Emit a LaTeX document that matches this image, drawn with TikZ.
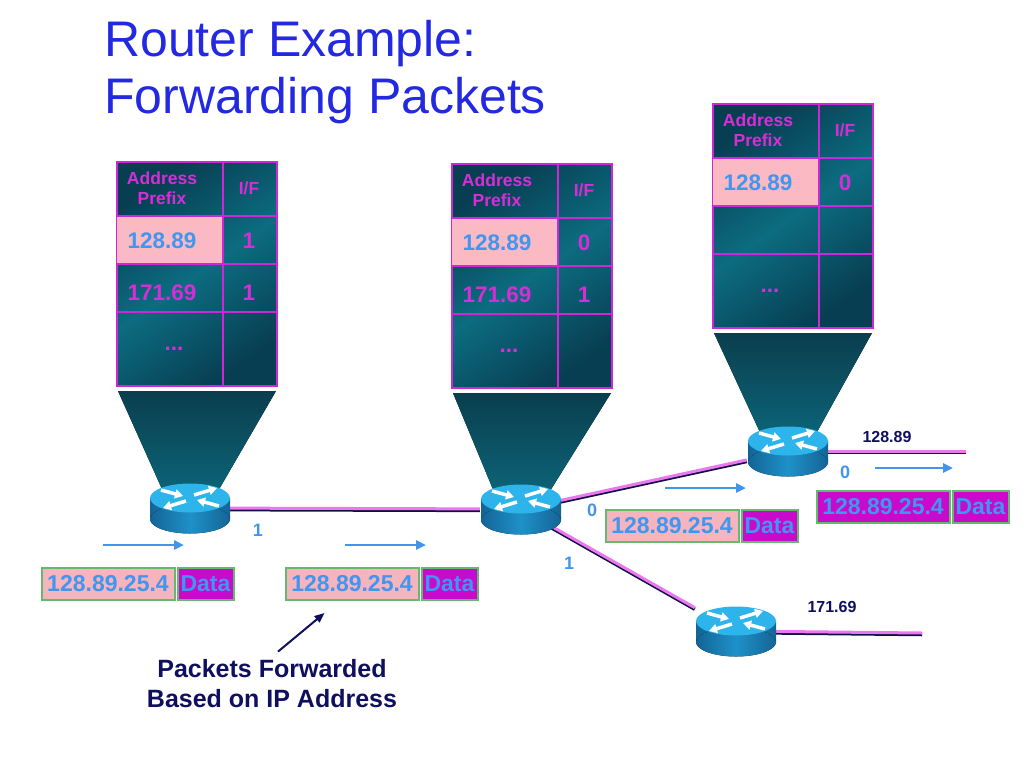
\documentclass[tikz,border=0pt]{standalone}
\usepackage{fontspec}
\setmainfont{Liberation Sans}
\usepackage{tikz}
\usetikzlibrary{arrows.meta}
\usetikzlibrary{positioning}
\usetikzlibrary{backgrounds}

\definecolor{titleblue}{RGB}{35,40,225}
\definecolor{tabdark}{RGB}{8,62,82}
\definecolor{tabmid}{RGB}{12,108,128}
\definecolor{tabline}{RGB}{205,40,215}
\definecolor{cellpink}{RGB}{250,185,195}
\definecolor{tabblue}{RGB}{65,150,240}
\definecolor{tabmag}{RGB}{215,45,215}
\definecolor{fundark}{RGB}{10,62,78}
\definecolor{funmid}{RGB}{12,102,122}
\definecolor{rttop}{RGB}{45,180,235}
\definecolor{rtside}{RGB}{30,145,200}
\definecolor{rtdark}{RGB}{20,100,150}
\definecolor{lkpink}{RGB}{235,120,240}
\definecolor{lkdark}{RGB}{15,15,70}
\definecolor{pktgreen}{RGB}{100,185,110}
\definecolor{pktpink}{RGB}{245,180,190}
\definecolor{pktmag}{RGB}{200,10,205}
\definecolor{navy}{RGB}{15,15,95}
\definecolor{movblue}{RGB}{65,150,235}

\tikzset{
    titletext/.style={text=titleblue, align=left, inner sep=0pt, font=\fontsize{50}{57}\selectfont},
    tablebox/.style={draw=tabline, line width=2pt, minimum width=160pt, minimum height=224pt, inner sep=0pt,
        shading=axis, top color=tabdark, bottom color=tabdark, middle color=tabmid, shading angle=35},
    tabrule/.style={draw=tabline, line width=2pt},
    headtext/.style={text=tabmag, align=center, inner sep=0pt, font=\bfseries\fontsize{17.5}{20}\selectfont},
    celltext/.style={text=tabmag, inner sep=0pt, font=\bfseries\fontsize{22.5}{25}\selectfont},
    funnel/.style={top color=fundark, bottom color=funmid},
    router/.style={inner sep=0pt, minimum width=82pt, minimum height=52pt, path picture={
        \begin{scope}[shift={(path picture bounding box.center)}]
            \fill[left color=rtdark, right color=rtdark, middle color=rtside] (-40,-10) rectangle (40,11);
            \fill[left color=rtdark, right color=rtdark, middle color=rtside] (0,11) ellipse [x radius=40pt, y radius=14.5pt];
            \fill[rttop] (0,-10) ellipse [x radius=40pt, y radius=14.5pt];
            \foreach \a/\b in {{4,-13}/{27,-20}, {-4,-7}/{-27,0}, {-29,-18}/{-7,-12}, {29,-2}/{7,-8}}
                \draw[white, line width=3.5pt, -{Triangle[length=8pt,width=9pt]}] (\a) -- (\b);
        \end{scope}}},
    linkdark/.style={draw=lkdark, line width=3.5pt, transform canvas={yshift=-1.5pt}},
    linkpink/.style={draw=lkpink, line width=3pt},
    addr/.style={draw=pktgreen, line width=2pt, fill=pktpink, text=tabblue, minimum width=133pt, minimum height=32pt,
        inner sep=0pt, font=\bfseries\fontsize{23}{25}\selectfont},
    addrfwd/.style={addr, fill=pktmag},
    datab/.style={addr, fill=pktmag, minimum width=56pt},
    iflabel/.style={text=movblue, inner sep=0pt, font=\bfseries\fontsize{18}{20}\selectfont},
    netlabel/.style={text=navy, inner sep=0pt, font=\bfseries\fontsize{16}{18}\selectfont},
    movearrow/.style={draw=movblue, line width=2.5pt, -{Triangle[length=10pt,width=9pt]}},
    notetext/.style={text=navy, align=center, inner sep=2pt, font=\bfseries\fontsize{25}{30}\selectfont},
    notearrow/.style={draw=navy, line width=2pt, -{Triangle[length=10pt,width=8pt]}}
}

\begin{document}
\begin{tikzpicture}[x=1pt, y=-1pt]
    \useasboundingbox (0,0) rectangle (1024,768);

    % title
    \node[titletext, anchor=north west] (title) at (104,20) {Router Example:\\Forwarding Packets};

    % routers
    \node[router] (r1) at (190,508) {};
    \node[router] (r2) at (521,509) {};
    \node[router] (r3) at (788,451) {};
    \node[router] (r4) at (736,631) {};
    \coordinate (e3) at (966,451);
    \coordinate (e4) at (922,633);

    % routing tables
    \foreach \t/\x/\y/\ia/\pb/\ib in {t1/116/161/1/171.69/1, t2/451/163/0/171.69/1, t3/712/103/0//} {
        \node[tablebox, anchor=north west] (\t) at (\x,\y) {};
        \fill[cellpink] ([shift={(1,55)}]\t.north west) rectangle ([shift={(107,103)}]\t.north west);
        \draw[tabrule] ([shift={(107,0)}]\t.north west) -- ([shift={(107,0)}]\t.south west);
        \foreach \h in {55,103,151}
            \draw[tabrule] ([shift={(0,\h)}]\t.north west) -- ([shift={(0,\h)}]\t.north east);
        \node[headtext] (\t-ap) at ([shift={(46,27)}]\t.north west) {Address\\Prefix};
        \node[headtext] (\t-if) at ([shift={(133,27)}]\t.north west) {I/F};
        \node[celltext, text=tabblue] (\t-p1) at ([shift={(46,80)}]\t.north west) {128.89};
        \node[celltext] (\t-i1) at ([shift={(133,80)}]\t.north west) {\ia};
        \node[celltext] (\t-p2) at ([shift={(46,132)}]\t.north west) {\pb};
        \node[celltext] (\t-i2) at ([shift={(133,132)}]\t.north west) {\ib};
        \node[celltext, anchor=base] (\t-dots) at ([shift={(58,189)}]\t.north west) {...};
    }

    % funnels and links under the routers
    \begin{scope}[on background layer]
        \foreach \t/\r in {t1/r1, t2/r2, t3/r3}
            \fill[funnel] ([shift={(2,4)}]\t.south west) -- ([shift={(-2,4)}]\t.south east)
                -- ([shift={(24,-10)}]\r.center) -- ([shift={(-24,-10)}]\r.center) -- cycle;
        \foreach \a/\b in {r1/r2, r2/r3, r2/r4, r3/e3, r4/e4} {
            \draw[linkdark] (\a.center) -- (\b);
            \draw[linkpink] (\a.center) -- (\b);
        }
    \end{scope}

    % interface and network labels
    \node[iflabel] (r1-if1) at (258,530) {1};
    \node[iflabel] (r2-if0) at (592,510) {0};
    \node[iflabel] (r2-if1) at (569,563) {1};
    \node[iflabel] (r3-if0) at (845,472) {0};
    \node[netlabel] (n3) at (887,437) {128.89};
    \node[netlabel] (n4) at (832,607) {171.69};

    % packets
    \node[addr] (p1a) at (108,584) {128.89.25.4};
    \node[datab, right=1pt of p1a] (p1d) {Data};
    \node[addr] (p2a) at (352,584) {128.89.25.4};
    \node[datab, right=1pt of p2a] (p2d) {Data};
    \node[addr] (p3a) at (672,526) {128.89.25.4};
    \node[datab, right=1pt of p3a] (p3d) {Data};
    \node[addrfwd] (p4a) at (883,507) {128.89.25.4};
    \node[datab, right=1pt of p4a] (p4d) {Data};

    % direction of travel
    \foreach \i/\xa/\xb/\yy in {1/103/184/545, 2/345/426/545, 3/665/746/488, 4/875/953/468} {
        \coordinate (ma\i) at (\xa,\yy);
        \coordinate (mb\i) at (\xb,\yy);
        \draw[movearrow] (ma\i) -- (mb\i);
    }

    % note
    \node[notetext] (note) at (272,684) {Packets Forwarded\\Based on IP Address};
    \draw[notearrow] ([shift={(6,-6)}]note.north) -- ([shift={(40,12)}]p2a.south west);
\end{tikzpicture}
\end{document}
